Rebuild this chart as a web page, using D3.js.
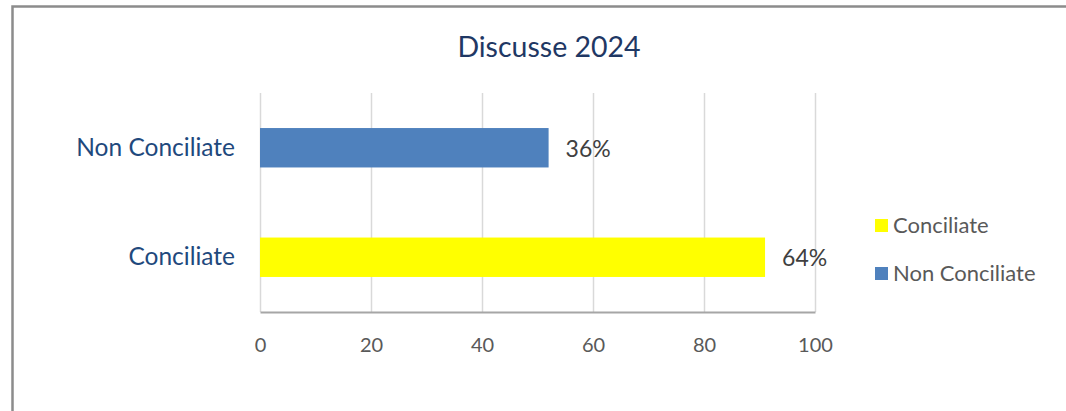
<!DOCTYPE html>
<html>
<head>
<meta charset="utf-8">
<script src="https://cdn.jsdelivr.net/npm/d3@7"></script>
<style>
  html, body { margin: 0; padding: 0; background: #ffffff; }
  svg { display: block; }
  text { font-family: Lato, "Noto Sans", sans-serif; }
</style>
</head>
<body>
<svg id="chart" width="1066" height="411"></svg>
<script>
// Chart data
const title = "Discusse 2024";
const categories = ["Non Conciliate", "Conciliate"];   // top to bottom
const values = [52, 91];
const legendOrder = ["Conciliate", "Non Conciliate"];
const xTicks = [0, 20, 40, 60, 80, 100];

const palette = d3.scaleOrdinal()
  .domain(["Conciliate", "Non Conciliate"])
  .range(["#FFFF00", "#4F81BD"]);

const total = d3.sum(values);
const pct = v => Math.round(v / total * 100) + "%";

const svg = d3.select("#chart");

// outer frame (only top and left edges fall inside the view)
svg.append("rect")
  .attr("x", 12.5).attr("y", 6.5)
  .attr("width", 1200).attr("height", 600)
  .attr("fill", "none")
  .attr("stroke", "#8c8c8c")
  .attr("stroke-width", 2.5);

const plot = { left: 260, right: 815, top: 93, bottom: 312 };

const x = d3.scaleLinear().domain([0, 100]).range([plot.left, plot.right]);
const y = d3.scaleBand().domain(categories)
  .range([plot.top, plot.bottom])
  .paddingInner(0.64).paddingOuter(0.32);

// vertical gridlines
svg.append("g")
  .attr("transform", `translate(0,${plot.bottom})`)
  .call(d3.axisBottom(x).tickValues(xTicks).tickSize(-(plot.bottom - plot.top)).tickFormat(""))
  .call(g => g.select(".domain").remove())
  .call(g => g.selectAll(".tick line").attr("stroke", "#d9d9d9").attr("stroke-width", 1.5));

// bottom axis line + tick labels
svg.append("g")
  .attr("transform", `translate(0,${plot.bottom})`)
  .call(d3.axisBottom(x).tickValues(xTicks).tickSize(0).tickPadding(0))
  .call(g => g.select(".domain").attr("stroke", "#a6a6a6").attr("stroke-width", 2))
  .call(g => g.selectAll(".tick text")
    .attr("dy", null).attr("y", 39.5)
    .attr("fill", "#595959")
    .style("font-size", "20px")
    .style("font-family", "Lato, 'Noto Sans', sans-serif"));

// bars
svg.append("g").selectAll("rect")
  .data(categories)
  .join("rect")
  .attr("x", x(0))
  .attr("y", d => y(d))
  .attr("width", (d, i) => x(values[i]) - x(0))
  .attr("height", y.bandwidth())
  .attr("fill", d => palette(d));

// data labels
svg.append("g").selectAll("text")
  .data(categories)
  .join("text")
  .attr("x", (d, i) => x(values[i]) + 17)
  .attr("y", d => y(d) + y.bandwidth() / 2 + 9)
  .attr("fill", "#404040")
  .style("font-size", "23px")
  .text((d, i) => pct(values[i]));

// category labels
svg.append("g").selectAll("text")
  .data(categories)
  .join("text")
  .attr("x", 235)
  .attr("y", d => y(d) + y.bandwidth() / 2 + 8)
  .attr("text-anchor", "end")
  .attr("fill", "#1F497D")
  .style("font-size", "24.5px")
  .text(d => d);

// title
svg.append("text")
  .attr("x", 549).attr("y", 57)
  .attr("text-anchor", "middle")
  .attr("fill", "#1F3864")
  .style("font-size", "28.5px")
  .text(title);

// legend
const legend = svg.append("g").selectAll("g")
  .data(legendOrder)
  .join("g")
  .attr("transform", (d, i) => `translate(875,${219 + i * 48})`);
legend.append("rect")
  .attr("width", 13).attr("height", 13)
  .attr("fill", d => palette(d));
legend.append("text")
  .attr("x", 18).attr("y", 14)
  .attr("fill", "#595959")
  .style("font-size", "22px")
  .text(d => d);
</script>
</body>
</html>
